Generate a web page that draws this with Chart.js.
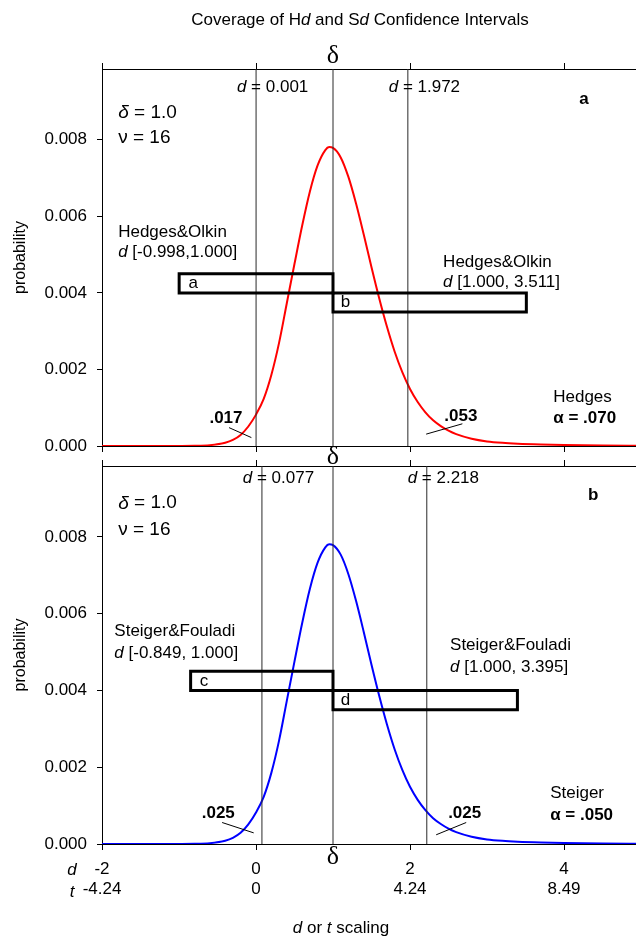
<!DOCTYPE html>
<html><head><meta charset="utf-8">
<script src="https://cdn.jsdelivr.net/npm/chart.js@4"></script>
<style>
html,body{margin:0;padding:0;background:#fff;overflow:hidden;width:636px;height:939px;}
#wrap{position:relative;width:636px;height:939px;overflow:hidden;background:#fff;}
canvas{position:absolute;left:0;}
#c1{top:0;}
#c2{top:440px;}
</style></head><body>
<div id="wrap"><canvas id="c1" width="641" height="470"></canvas><canvas id="c2" width="641" height="499"></canvas></div>
<script>
// ---- data ----
const dGrid = [-2.0,-1.5,-1.0,-0.8,-0.6,-0.4,-0.3,-0.2,-0.1,0.0,0.1,0.2,0.3,0.4,0.5,0.6,0.7,0.8,0.9,0.95,1.0,1.1,1.2,1.3,1.4,1.5,1.6,1.7,1.8,1.9,2.0,2.1,2.2,2.3,2.4,2.5,2.6,2.8,3.0,3.2,3.4,3.7,4.0,4.5,5.0];
const probHedges = [0,0,0.000001,0.000004,0.000021,0.000086,0.00016,0.00029,0.00051,0.00082,0.00123,0.00186,0.00270,0.00373,0.00476,0.00576,0.00665,0.00733,0.00773,0.00781,0.00779,0.00754,0.00703,0.00633,0.00552,0.00467,0.00386,0.00312,0.00247,0.00193,0.00149,0.00115,0.00088,0.00067,0.00052,0.00040,0.00031,0.00019,0.00012,0.000082,0.00006,0.00004,0.000027,0.000012,0.000005];
const probSteiger = [0,0,0.000001,0.000004,0.000021,0.000086,0.00016,0.00029,0.00051,0.00082,0.00123,0.00186,0.00270,0.00373,0.00476,0.00576,0.00665,0.00733,0.00773,0.00781,0.00779,0.00754,0.00703,0.00633,0.00552,0.00467,0.00386,0.00312,0.00247,0.00193,0.00149,0.00115,0.00088,0.00067,0.00052,0.00040,0.00031,0.00019,0.00012,0.000082,0.00006,0.00004,0.000027,0.000012,0.000005];
const deltaValue = 1.0;
const hedgesBounds = [0.001, 1.972];
const steigerBounds = [0.077, 2.218];
const hedgesLowerCI = [-0.998, 1.000];
const hedgesUpperCI = [1.000, 3.511];
const steigerLowerCI = [-0.849, 1.000];
const steigerUpperCI = [1.000, 3.395];
const bandUpper = [0.0040, 0.0045];
const bandLower = [0.0035, 0.0040];
const dTicks = [-2, 0, 2, 4];
const dTickLabels = ['-2', '0', '2', '4'];
const tTickLabels = ['-4.24', '0', '4.24', '8.49'];
const yTicks = [0, 0.002, 0.004, 0.006, 0.008];
const xMin = -2, xMax = 5, yMax = 0.00985;

const FONT = "'Liberation Sans', Arial, Helvetica, sans-serif";
const FS = 17;

function fontFor(p, size){ return (p.s ? p.s + ' ' : '') + size + 'px ' + (p.f || FONT); }
function drawRich(ctx, parts, x, y, align, size){
  const w = parts.map(p => { ctx.font = fontFor(p, size); return ctx.measureText(p.t).width; });
  const total = w.reduce((a,b)=>a+b,0);
  const ai = parts.findIndex(p => p.a);
  let sx;
  if (ai >= 0) sx = x - w.slice(0, ai).reduce((a,b)=>a+b,0) - w[ai]/2;
  else if (align === 'center') sx = x - total/2;
  else if (align === 'right') sx = x - total;
  else sx = x;
  ctx.save();
  ctx.textBaseline = 'middle'; ctx.textAlign = 'left'; ctx.fillStyle = '#000';
  parts.forEach((p,i) => { ctx.font = fontFor(p, size); ctx.fillText(p.t, sx, y); sx += w[i]; });
  ctx.restore();
}

function boxPath(ci, band){
  return [{x:ci[0],y:band[1]},{x:ci[1],y:band[1]},{x:ci[1],y:band[0]},{x:ci[0],y:band[0]},{x:ci[0],y:band[1]},{x:ci[1],y:band[1]}];
}

function boundLabel(v){ return [{t:'d',s:'italic'},{t:' '},{t:'=',a:1},{t:' ' + v.toFixed(3)}]; }

const hedgesNotes = [
  {parts: boundLabel(hedgesBounds[0]), d: hedgesBounds[0], p: 0.00936},
  {parts: boundLabel(hedgesBounds[1]), d: hedgesBounds[1], p: 0.00936},
  {parts: [{t:'a',s:'bold'}], d: 4.26, p: 0.00907, align:'center'},
  {parts: [{t:'δ',s:'italic'},{t:' = 1.0'}], d: -1.79, p: 0.0087, size: 19},
  {parts: [{t:'ν = 16'}], d: -1.79, p: 0.00805, size: 19},
  {parts: [{t:'Hedges&Olkin'}], d: -1.79, p: 0.00559},
  {parts: [{t:'d',s:'italic'},{t:' [-0.998,1.000]'}], d: -1.79, p: 0.00507},
  {parts: [{t:'Hedges&Olkin'}], d: 2.43, p: 0.00481},
  {parts: [{t:'d',s:'italic'},{t:' [1.000, 3.511]'}], d: 2.43, p: 0.00428},
  {parts: [{t:'a'}], d: hedgesLowerCI[0] + 0.12, p: 0.00425},
  {parts: [{t:'b'}], d: hedgesUpperCI[0] + 0.10, p: 0.00375},
  {parts: [{t:'.017',s:'bold'}], d: -0.39, p: 0.00073, align:'center'},
  {parts: [{t:'.053',s:'bold'}], d: 2.66, p: 0.00078, align:'center'},
  {parts: [{t:'Hedges'}], d: 3.86, p: 0.00128},
  {parts: [{t:'α = .070',s:'bold'}], d: 3.86, p: 0.00073}
];
const hedgesLeaders = [[[-0.35,0.00048],[-0.06,0.00022]], [[2.68,0.00058],[2.21,0.00031]]];

const steigerNotes = [
  {parts: boundLabel(steigerBounds[0]), d: steigerBounds[0], p: 0.00954},
  {parts: boundLabel(steigerBounds[1]), d: steigerBounds[1], p: 0.00954},
  {parts: [{t:'b',s:'bold'}], d: 4.38, p: 0.00909, align:'center'},
  {parts: [{t:'δ',s:'italic'},{t:' = 1.0'}], d: -1.79, p: 0.00888, size: 19},
  {parts: [{t:'ν = 16'}], d: -1.79, p: 0.0082, size: 19},
  {parts: [{t:'Steiger&Fouladi'}], d: -1.84, p: 0.00554},
  {parts: [{t:'d',s:'italic'},{t:' [-0.849, 1.000]'}], d: -1.84, p: 0.00496},
  {parts: [{t:'Steiger&Fouladi'}], d: 2.52, p: 0.00517},
  {parts: [{t:'d',s:'italic'},{t:' [1.000, 3.395]'}], d: 2.52, p: 0.0046},
  {parts: [{t:'c'}], d: steigerLowerCI[0] + 0.12, p: 0.00425},
  {parts: [{t:'d'}], d: steigerUpperCI[0] + 0.10, p: 0.00375},
  {parts: [{t:'.025',s:'bold'}], d: -0.49, p: 0.00081, align:'center'},
  {parts: [{t:'.025',s:'bold'}], d: 2.71, p: 0.00081, align:'center'},
  {parts: [{t:'Steiger'}], d: 3.82, p: 0.00133},
  {parts: [{t:'α = .050',s:'bold'}], d: 3.82, p: 0.00076}
];
const steigerLeaders = [[[-0.44,0.00056],[-0.03,0.00029]], [[2.73,0.00056],[2.34,0.00024]]];

function makePanel(id, cfg){
  const isBottom = cfg.isBottom;
  const datasets = [];
  datasets.push({data: dGrid.map((d,i)=>({x:d, y:cfg.prob[i]})), borderColor: cfg.color, borderWidth: 2, pointRadius: 0, cubicInterpolationMode: 'monotone', fill:false, order: 3});
  [cfg.bounds[0], deltaValue, cfg.bounds[1]].forEach(v => {
    datasets.push({data:[{x:v,y:0},{x:v,y:yMax}], borderColor:'#2a2a2a', borderWidth:1, pointRadius:0, fill:false, order:2});
  });
  datasets.push({data: boxPath(cfg.lowerCI, bandUpper), borderColor:'#000', borderWidth:3, pointRadius:0, fill:false, borderJoinStyle:'miter', order:1});
  datasets.push({data: boxPath(cfg.upperCI, bandLower), borderColor:'#000', borderWidth:3, pointRadius:0, fill:false, borderJoinStyle:'miter', order:1});
  cfg.leaders.forEach(l => {
    datasets.push({data: l.map(q=>({x:q[0],y:q[1]})), borderColor:'#000', borderWidth:1, pointRadius:0, fill:false, order:1});
  });

  const tickFont = {family: FONT, size: FS};
  const extras = {
    id: 'extras' + id,
    afterDraw(chart){
      const ctx = chart.ctx;
      const xs = chart.scales.x, ys = chart.scales.y;
      const ca = chart.chartArea;
      cfg.notes.forEach(n => {
        drawRich(ctx, n.parts, xs.getPixelForValue(n.d), ys.getPixelForValue(n.p), n.align || 'left', n.size || FS);
      });
      const dx = xs.getPixelForValue(deltaValue);
      const serif = "'Liberation Serif', 'DejaVu Serif', serif";
      if (!isBottom){
        drawRich(ctx, [{t:'Coverage of H'},{t:'d',s:'italic'},{t:' and S'},{t:'d',s:'italic'},{t:' Confidence Intervals'}], 360, 20, 'center', FS);
        drawRich(ctx, [{t:'δ', f: serif}], dx, ca.top - 13, 'center', 26);
        drawRich(ctx, [{t:'δ', f: serif}], dx, ca.bottom + 11, 'center', 26);
      } else {
        drawRich(ctx, [{t:'δ', f: serif}], dx, ca.bottom + 13, 'center', 26);
        drawRich(ctx, [{t:'d',s:'italic'}], 72, ca.bottom + 26, 'center', FS);
        drawRich(ctx, [{t:'t',s:'italic'}], 72, ca.bottom + 48, 'center', FS);
        drawRich(ctx, [{t:'d',s:'italic'},{t:' or '},{t:'t',s:'italic'},{t:' scaling'}], 341, ca.bottom + 84, 'center', FS);
      }
    }
  };

  return new Chart(document.getElementById(id), {
    type: 'line',
    data: {datasets},
    options: {
      responsive: false, animation: false, devicePixelRatio: 1,
      layout: {padding: cfg.padding},
      plugins: {legend:{display:false}, tooltip:{enabled:false}, title:{display:false}},
      scales: {
        x: {
          type:'linear', position:'bottom', min:xMin, max:xMax,
          afterBuildTicks: s => { s.ticks = dTicks.map(v=>({value:v})); },
          grid: {drawOnChartArea:false, drawTicks:true, tickLength:6, color:'#000', lineWidth:1},
          border: {display:true, color:'#000', width:1},
          ticks: {display: isBottom, autoSkip:false, maxRotation:0, color:'#000', font: tickFont, padding: 9,
                  callback: (v, i) => [dTickLabels[i], tTickLabels[i]]},
          afterFit: s => { s.height = isBottom ? 95 : 6; }
        },
        xTop: {
          type:'linear', position:'top', min:xMin, max:xMax,
          afterBuildTicks: s => { s.ticks = dTicks.map(v=>({value:v})); },
          grid: {drawOnChartArea:false, drawTicks:true, tickLength:6, color:'#000', lineWidth:1},
          border: {display:true, color:'#000', width:1},
          ticks: {display:false},
          afterFit: s => { s.height = 6; }
        },
        y: {
          type:'linear', position:'left', min:0, max:yMax,
          afterBuildTicks: s => { s.ticks = yTicks.map(v=>({value:v})); },
          grid: {drawOnChartArea:false, drawTicks:true, tickLength:5, color:'#000', lineWidth:1},
          border: {display:true, color:'#000', width:1},
          ticks: {color:'#000', font: tickFont, padding: 10, callback: v => Number(v).toFixed(3)},
          title: {display:true, text:'probability', color:'#000', font:{family:FONT, size:16}, padding:{top:11, bottom:0}},
          afterFit: s => { s.width = 102; }
        }
      }
    },
    plugins: [extras]
  });
}

makePanel('c1', {isBottom:false, prob: probHedges, color:'#ff0000', bounds: hedgesBounds, lowerCI: hedgesLowerCI, upperCI: hedgesUpperCI, notes: hedgesNotes, leaders: hedgesLeaders, padding:{top:63, bottom:18, left:0, right:0}});
makePanel('c2', {isBottom:true, prob: probSteiger, color:'#0000ff', bounds: steigerBounds, lowerCI: steigerLowerCI, upperCI: steigerUpperCI, notes: steigerNotes, leaders: steigerLeaders, padding:{top:20, bottom:0, left:0, right:0}});
</script>
</body></html>
